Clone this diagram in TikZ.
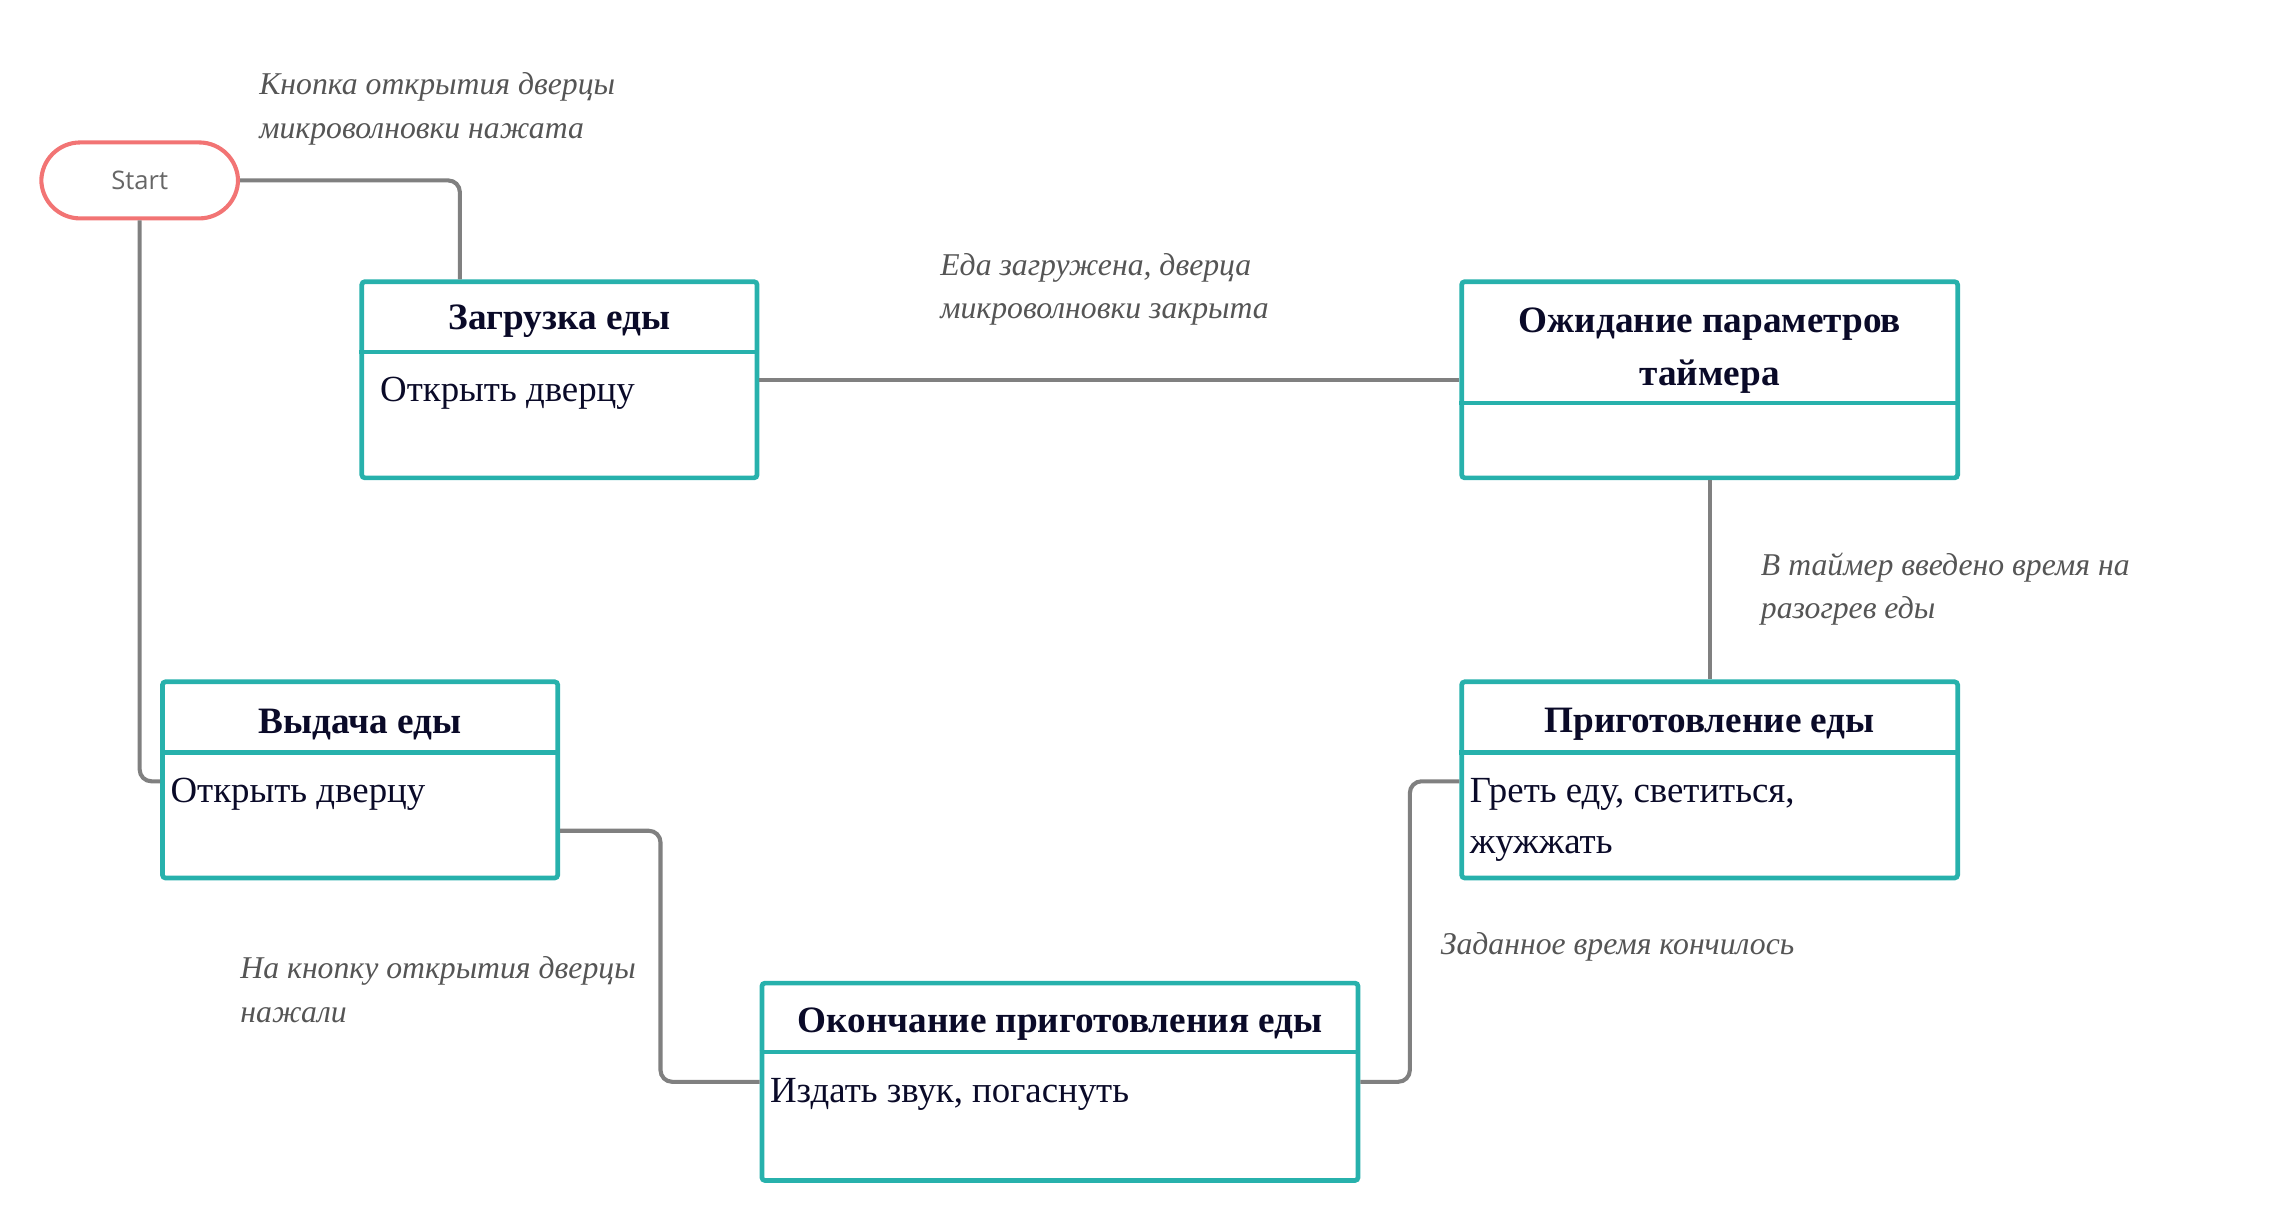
\documentclass[tikz,border=0pt]{standalone}
\usepackage{fontspec}
\setmainfont{Liberation Serif}
\newfontfamily\startfont{Open Sans}
\usepackage{tikz}
\usetikzlibrary{calc}
\definecolor{boxteal}{HTML}{27B1AC}
\definecolor{startred}{HTML}{F27474}
\definecolor{wiregray}{HTML}{808080}
\definecolor{notegray}{HTML}{555555}
\definecolor{inkdark}{HTML}{0A0A28}
\tikzset{
	statebox/.style={draw=boxteal, line width=2.3pt, rounded corners=1.5pt, inner sep=0pt},
	startbox/.style={draw=startred, line width=2pt, rounded corners=19pt, minimum width=3.38cm, minimum height=1.305cm, text=black!60, font=\startfont\fontsize{12.5}{15}\selectfont},
	wire/.style={draw=wiregray, line width=2pt, rounded corners=0.2cm},
	headtext/.style={text=inkdark, align=center, font=\bfseries\fontsize{18.2}{25.5}\selectfont},
	bodytext/.style={text=inkdark, align=left, anchor=west, inner sep=0pt, font=\fontsize{18}{25}\selectfont},
	notetext/.style={text=notegray, align=left, anchor=west, inner sep=0pt, font=\itshape\fontsize{15.5}{21.3}\selectfont}
}

\begin{document}
\begin{tikzpicture}[x=0.025cm, y=-0.025cm]
			%%%%% START %%%%%
			\useasboundingbox (0,0) rectangle (1567,841.25);
			
			\node[startbox] (start) at (96,124) {Start};
			
			\node[statebox, minimum width=6.79cm, minimum height=3.37cm] (load) at (384.5,261) {};
			\draw[boxteal, line width=2.3pt] ($(load.north west)+(0,50)$) -- ($(load.north east)+(0,50)$);
			\node[headtext] (loadhead) at (384.5,221) {Загрузка еды};
			\node[bodytext] (loadbody) at (261,270) {Открыть дверцу};
			
			\node[statebox, minimum width=8.52cm, minimum height=3.37cm] (wait) at (1175,261) {};
			\draw[boxteal, line width=2.3pt] ($(wait.north west)+(0,85)$) -- ($(wait.north east)+(0,85)$);
			\node[headtext] (waithead) at (1175,241) {Ожидание параметров\\таймера};
			
			\node[statebox, minimum width=8.52cm, minimum height=3.37cm] (cook) at (1175,536) {};
			\draw[boxteal, line width=2.3pt] ($(cook.north west)+(0,50)$) -- ($(cook.north east)+(0,50)$);
			\node[headtext] (cookhead) at (1175,498) {Приготовление еды};
			\node[bodytext] (cookbody) at (1010,563.5) {Греть еду, светиться,\\жужжать};
			
			\node[statebox, minimum width=10.24cm, minimum height=3.39cm] (done) at (728.5,743.5) {};
			\draw[boxteal, line width=2.3pt] ($(done.north west)+(0,49)$) -- ($(done.north east)+(0,49)$);
			\node[headtext] (donehead) at (728.5,704) {Окончание приготовления еды};
			\node[bodytext] (donebody) at (529,752) {Издать звук, погаснуть};
			
			\node[statebox, minimum width=6.79cm, minimum height=3.37cm] (serve) at (247.5,536) {};
			\draw[boxteal, line width=2.3pt] ($(serve.north west)+(0,50)$) -- ($(serve.north east)+(0,50)$);
			\node[headtext] (servehead) at (247.5,498) {Выдача еды};
			\node[bodytext] (servebody) at (117,546) {Открыть дверцу};
			
			% transitions
			\draw[wire] (start.east) -| ($(load.north west)+(69,0)$);
			\draw[wire] (start.south) |- ($(serve.north west)+(0,70)$);
			\draw[wire] (load.east) -- (wait.west);
			\draw[wire] (wait.south) -- (cook.north);
			\draw[wire] (done.east) -- ++(34,0) |- ($(cook.north west)+(0,70)$);
			\draw[wire] ($(serve.north east)+(0,104)$) -- ++(69,0) |- (done.west);
			
			% transition labels
			\node[notetext] (note1) at (178,75) {Кнопка открытия дверцы\\микроволновки нажата};
			\node[notetext] (note2) at (646,199) {Еда загружена, дверца\\микроволновки закрыта};
			\node[notetext] (note3) at (1210,405) {В таймер введено время на\\разогрев еды};
			\node[notetext] (note4) at (990,651) {Заданное время кончилось};
			\node[notetext] (note5) at (165,680) {На кнопку открытия дверцы\\нажали};
			
			%%%%% END %%%%%
\end{tikzpicture}
\end{document}
